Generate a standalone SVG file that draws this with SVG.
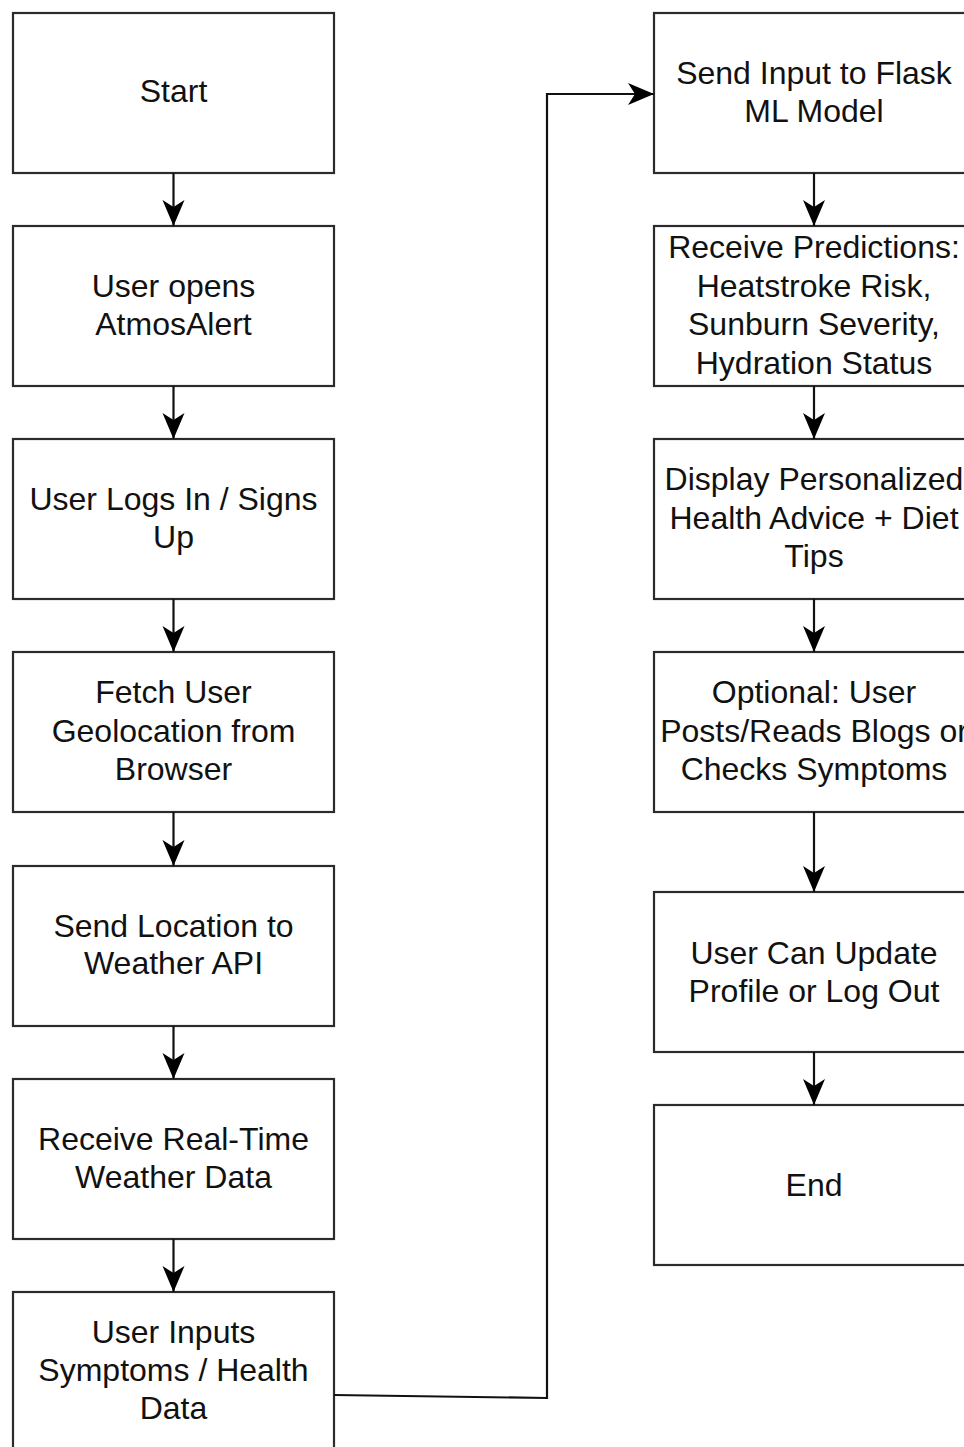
<svg xmlns="http://www.w3.org/2000/svg" width="964" height="1447" viewBox="0 0 964 1447">
<style>
.box{fill:#fff;stroke:#2b2b2b;stroke-width:2.2}
.t{font-family:"Liberation Sans",Arial,sans-serif;font-size:32px;fill:#111;text-anchor:middle}
.c{fill:none;stroke:#111;stroke-width:2.2}
</style>
<defs>
<marker id="ah" viewBox="-27 -12 28 24" refX="0" refY="0" markerWidth="28" markerHeight="24" markerUnits="userSpaceOnUse" orient="auto">
<path d="M0,0 L-26,-11 L-19,0 L-26,11 Z" fill="#000"/>
</marker>
</defs>
<rect width="964" height="1447" fill="#fff"/>
<g id="n1"><rect class="box" x="13" y="13" width="321" height="160"/><text class="t" x="173.5" y="102">Start</text></g>
<g id="n2"><rect class="box" x="13" y="226" width="321" height="160"/><text class="t" x="173.5" y="297">User opens</text><text class="t" x="173.5" y="335">AtmosAlert</text></g>
<g id="n3"><rect class="box" x="13" y="439" width="321" height="160"/><text class="t" x="173.5" y="510">User Logs In / Signs</text><text class="t" x="173.5" y="548">Up</text></g>
<g id="n4"><rect class="box" x="13" y="652" width="321" height="160"/><text class="t" x="173.5" y="703">Fetch User</text><text class="t" x="173.5" y="742">Geolocation from</text><text class="t" x="173.5" y="780">Browser</text></g>
<g id="n5"><rect class="box" x="13" y="866" width="321" height="160"/><text class="t" x="173.5" y="937">Send Location to</text><text class="t" x="173.5" y="974">Weather API</text></g>
<g id="n6"><rect class="box" x="13" y="1079" width="321" height="160"/><text class="t" x="173.5" y="1150">Receive Real-Time</text><text class="t" x="173.5" y="1188">Weather Data</text></g>
<g id="n7"><rect class="box" x="13" y="1292" width="321" height="170"/><text class="t" x="173.5" y="1343">User Inputs</text><text class="t" x="173.5" y="1381">Symptoms / Health</text><text class="t" x="173.5" y="1419">Data</text></g>
<g id="n8"><rect class="box" x="654" y="13" width="321" height="160"/><text class="t" x="814" y="84">Send Input to Flask</text><text class="t" x="814" y="122">ML Model</text></g>
<g id="n9"><rect class="box" x="654" y="226" width="321" height="160"/><text class="t" x="814" y="258">Receive Predictions:</text><text class="t" x="814" y="297">Heatstroke Risk,</text><text class="t" x="814" y="335">Sunburn Severity,</text><text class="t" x="814" y="374">Hydration Status</text></g>
<g id="n10"><rect class="box" x="654" y="439" width="321" height="160"/><text class="t" x="814" y="490">Display Personalized</text><text class="t" x="814" y="529">Health Advice + Diet</text><text class="t" x="814" y="567">Tips</text></g>
<g id="n11"><rect class="box" x="654" y="652" width="321" height="160"/><text class="t" x="814" y="703">Optional: User</text><text class="t" x="814" y="742">Posts/Reads Blogs or</text><text class="t" x="814" y="780">Checks Symptoms</text></g>
<g id="n12"><rect class="box" x="654" y="892" width="321" height="160"/><text class="t" x="814" y="964">User Can Update</text><text class="t" x="814" y="1002">Profile or Log Out</text></g>
<g id="n13"><rect class="box" x="654" y="1105" width="321" height="160"/><text class="t" x="814" y="1196">End</text></g>
<g id="connectors">
<path class="c" d="M173.5,173 V226" marker-end="url(#ah)"/>
<path class="c" d="M173.5,386 V439" marker-end="url(#ah)"/>
<path class="c" d="M173.5,599 V652" marker-end="url(#ah)"/>
<path class="c" d="M173.5,812 V866" marker-end="url(#ah)"/>
<path class="c" d="M173.5,1026 V1079" marker-end="url(#ah)"/>
<path class="c" d="M173.5,1239 V1292" marker-end="url(#ah)"/>
<path class="c" d="M334,1395 L547,1398 L547,94 L654,94" marker-end="url(#ah)"/>
<path class="c" d="M814,173 V226" marker-end="url(#ah)"/>
<path class="c" d="M814,386 V439" marker-end="url(#ah)"/>
<path class="c" d="M814,599 V652" marker-end="url(#ah)"/>
<path class="c" d="M814,812 V892" marker-end="url(#ah)"/>
<path class="c" d="M814,1052 V1105" marker-end="url(#ah)"/>
</g>
</svg>
